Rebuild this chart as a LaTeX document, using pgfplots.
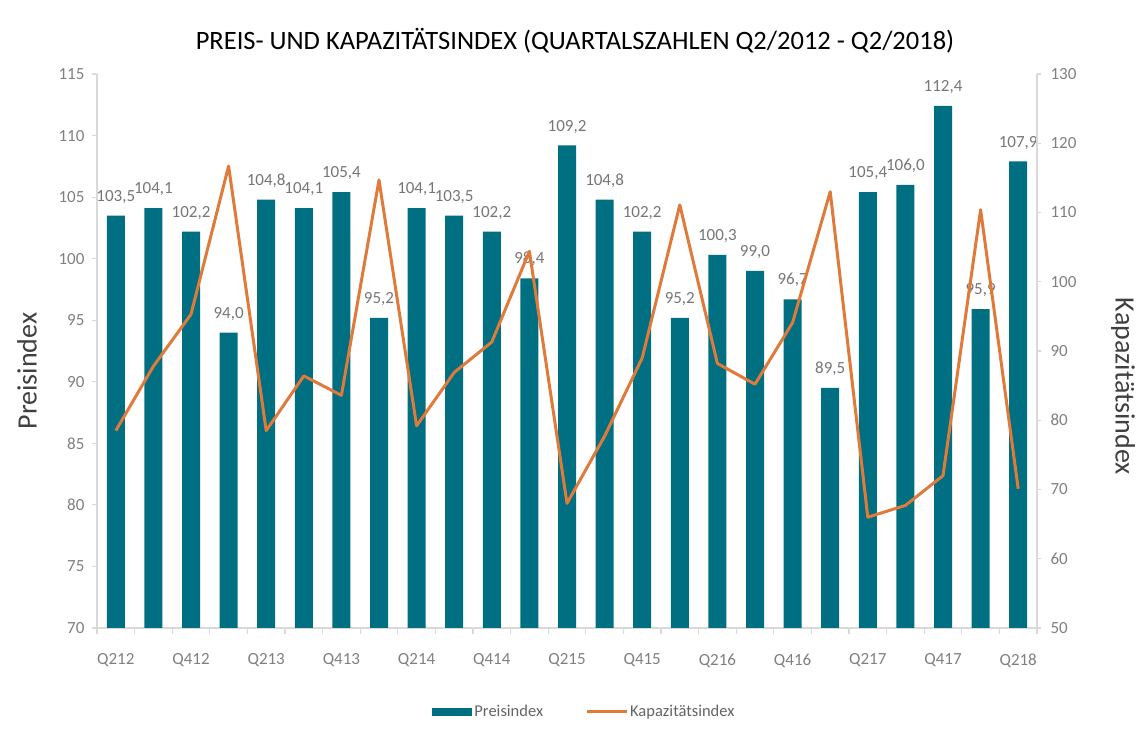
\documentclass[border=0pt]{standalone}
\usepackage{pgfplots}
\usepackage{pgfplotstable}
\pgfplotsset{compat=1.18}
\usepackage{fontspec}
\setmainfont{Carlito}
\definecolor{barc}{RGB}{0,111,129}
\definecolor{lnc}{RGB}{224,122,59}
\definecolor{axg}{RGB}{217,217,217}
\definecolor{tickg}{RGB}{128,128,128}
\definecolor{labg}{RGB}{118,118,118}
\definecolor{legg}{RGB}{100,100,100}

\pgfplotstableread{
x p k
0 103.5 78.5
1 104.1 87.8
2 102.2 95.3
3 94.0 116.7
4 104.8 78.5
5 104.1 86.4
6 105.4 83.6
7 95.2 114.7
8 104.1 79.2
9 103.5 86.9
10 102.2 91.3
11 98.4 104.4
12 109.2 68.0
13 104.8 77.7
14 102.2 89.0
15 95.2 111.1
16 100.3 88.2
17 99.0 85.2
18 96.7 94.1
19 89.5 113.0
20 105.4 66.0
21 106.0 67.7
22 112.4 72.0
23 95.9 110.4
24 107.9 70.1
}\data

\begin{document}
\begin{tikzpicture}
\useasboundingbox (0,0) rectangle (1146pt,746pt);
\begin{axis}[
  at={(97pt,118pt)}, anchor=south west,
  scale only axis, width=940pt, height=554pt,
  xmin=-0.5, xmax=24.5, ymin=70, ymax=115,
  ybar, bar width=18pt,
  axis y line*=left, axis x line*=bottom,
  axis line style={-, draw=axg, line width=1.5pt},
  ytick={70,75,...,115},
  xtick={0,2,...,24},
  xticklabels={Q212,Q412,Q213,Q413,Q214,Q414,Q215,Q415,Q216,Q416,Q217,Q417,Q218},
  minor xtick={-0.5,0.5,...,24.5},
  tick align=outside,
  major tick length=5pt, minor tick length=6pt,
  major x tick style={draw=none},
  minor x tick style={draw=axg, line width=1.2pt},
  y tick style={draw=axg, line width=1.2pt},
  /pgf/number format/assume math mode=true,
  ticklabel style={font=\fontsize{17}{20}\selectfont, text=tickg},
  xticklabel style={yshift=-17pt},
  yticklabel style={xshift=-4pt},
  legend style={at={(0.5186,-0.1516)}, anchor=center, draw=none,
    font=\fontsize{16.5}{20}\selectfont, text=legg,
    /tikz/every even column/.append style={column sep=40pt}},
  legend columns=2,
]
\addplot[fill=barc, draw=none,
  nodes near coords={\pgfmathprintnumber[use comma, fixed, fixed zerofill, precision=1, assume math mode=true]{\pgfplotspointmeta}},
  every node near coord/.append style={font=\fontsize{17}{20}\selectfont, text=labg, anchor=south, inner sep=0pt, yshift=12pt},
  legend image code/.code={\fill[barc] (0pt,-4pt) rectangle (40pt,4pt);}
] table[x=x,y=p]{\data};
\addlegendentry{Preisindex}
\addlegendimage{legend image code/.code={\draw[lnc, line width=3pt] (0pt,0pt) -- (40pt,0pt);}}
\addlegendentry{Kapazitätsindex}
\end{axis}
\begin{axis}[
  at={(97pt,118pt)}, anchor=south west,
  scale only axis, width=940pt, height=554pt,
  xmin=-0.5, xmax=24.5, ymin=50, ymax=130,
  axis y line*=right, axis x line=none,
  axis line style={-, draw=axg, line width=1.5pt},
  ytick={50,60,...,130},
  tick align=outside, major tick length=4pt,
  y tick style={draw=axg, line width=1.2pt},
  /pgf/number format/assume math mode=true,
  ticklabel style={font=\fontsize{17}{20}\selectfont, text=tickg},
  yticklabel style={xshift=6pt},
]
\addplot[lnc, line width=3pt, line join=round, mark=none] table[x=x,y=k]{\data};
\end{axis}
\node[font=\fontsize{26.5}{30}\selectfont] at (575pt,705pt) {PREIS- UND KAPAZITÄTSINDEX (QUARTALSZAHLEN Q2/2012 - Q2/2018)};
\node[rotate=90, font=\fontsize{28}{32}\selectfont, text=black!75] at (27pt,375pt) {Preisindex};
\node[rotate=-90, font=\fontsize{28}{32}\selectfont, text=black!75] at (1123pt,359.5pt) {Kapazitätsindex};
\end{tikzpicture}
\end{document}
